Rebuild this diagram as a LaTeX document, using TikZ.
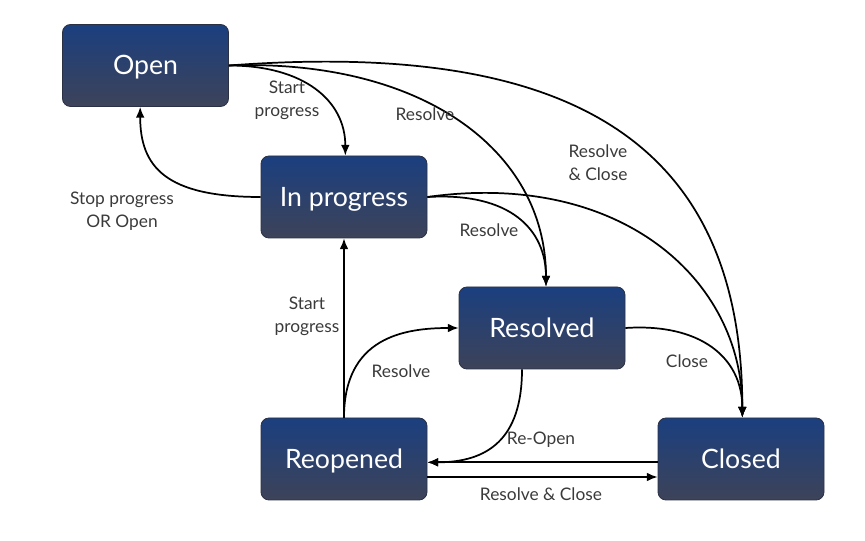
\documentclass[tikz,border=0pt]{standalone}
\usepackage{fontspec}
\setmainfont{Lato}
\usetikzlibrary{arrows.meta}

\definecolor{boxtop}{HTML}{1B3F7F}
\definecolor{boxbot}{HTML}{3D4359}
\definecolor{boxline}{HTML}{2B3144}
\definecolor{lbltext}{HTML}{3A3A3A}

\tikzset{
  state/.style={draw=boxline, line width=0.6pt, rounded corners=6pt,
    top color=boxtop, bottom color=boxbot,
    minimum width=124.5pt, minimum height=61.5pt,
    text height=14pt, text depth=0pt,
    text=white, font=\fontsize{20}{24}\selectfont},
  flow/.style={line width=1.3pt, -{Latex[length=8pt,width=6.5pt]}},
  lbl/.style={text=lbltext, font=\fontsize{13}{17}\selectfont, align=center},
}

\begin{document}
\begin{tikzpicture}[x=0.75pt,y=-0.75pt]
    \useasboundingbox (0,0) rectangle (865,541);
    % states
    \node[state] (open)   at (145.5,65.5) {Open};
    \node[state] (prog)   at (344,197)    {In progress};
    \node[state] (res)    at (542,328)    {Resolved};
    \node[state] (reop)   at (344,459)    {Reopened};
    \node[state] (closed) at (741,459)    {Closed};

    % from Open
    \draw[flow] (open.east) .. controls +(75,0) and +(0,-55) .. ([xshift=1pt]prog.north);
    \draw[flow] (open.east) .. controls +(192,-7) and +(0,-137) .. ([xshift=3pt]res.north);
    \draw[flow] (open.east) .. controls +(332,-25) and +(0,-283) .. ([xshift=1pt]closed.north);
    % from In progress
    \draw[flow] (prog.west) .. controls +(-95,0) and +(0,60) .. ([xshift=-4pt]open.south);
    \draw[flow] (prog.east) .. controls +(83,-5) and +(0,-57) .. ([xshift=3pt]res.north);
    \draw[flow] (prog.east) .. controls +(193,-27) and +(0,-138) .. ([xshift=1pt]closed.north);
    % from Reopened
    \draw[flow] (reop.north) -- (prog.south);
    \draw[flow] (reop.north) .. controls +(0,-80) and +(-55,0) .. (res.west);
    \draw[flow] ([yshift=-13.5pt]reop.east) -- ([yshift=-13.5pt]closed.west);
    % from Resolved
    \draw[flow] ([xshift=-15pt]res.south) .. controls +(0,70) and +(60,0) .. ([yshift=-2.5pt]reop.east);
    \draw[flow] (res.east) .. controls +(75,-5) and +(0,-60) .. ([xshift=1pt]closed.north);
    % from Closed
    \draw[flow] ([yshift=-2.5pt]closed.west) -- ([yshift=-2.5pt]reop.east);

    % labels
    \node[lbl] (lStartA)  at (287,100) {Start\\progress};
    \node[lbl] (lResA)    at (425,114) {Resolve};
    \node[lbl] (lResCl)   at (598,163) {Resolve\\\& Close};
    \node[lbl] (lStop)    at (122,211) {Stop progress\\OR Open};
    \node[lbl] (lResB)    at (489,230) {Resolve};
    \node[lbl] (lStartB)  at (307,316) {Start\\progress};
    \node[lbl] (lResC)    at (401,371) {Resolve};
    \node[lbl] (lReOpen)  at (541,440) {Re-Open};
    \node[lbl] (lClose)   at (687,361) {Close};
    \node[lbl] (lResClB)  at (541,494) {Resolve \& Close};
\end{tikzpicture}
\end{document}
